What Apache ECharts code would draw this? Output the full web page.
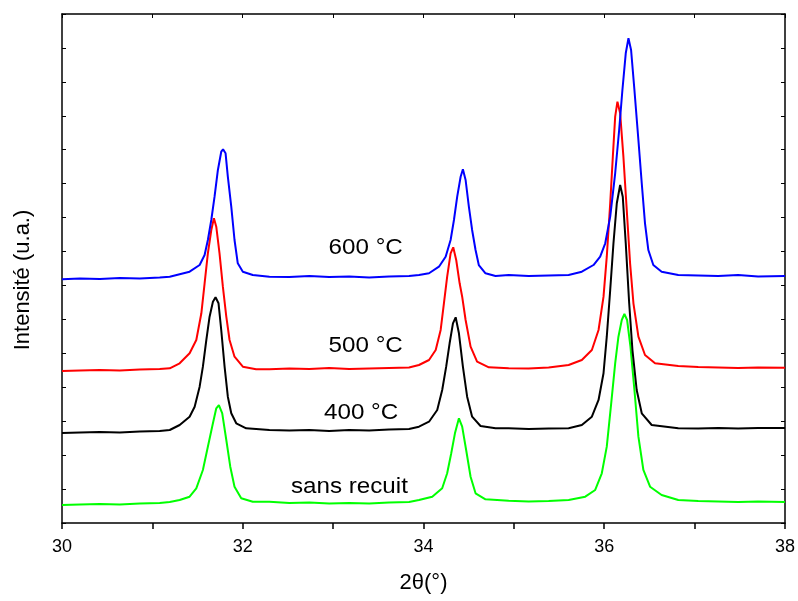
<!DOCTYPE html>
<html>
<head>
<meta charset="utf-8">
<script src="https://cdn.jsdelivr.net/npm/echarts@6/dist/echarts.min.js"></script>
<style>html,body{margin:0;padding:0;background:#fff;}#c{width:798px;height:601px;}</style>
</head>
<body>
<div id="c"></div>
<script>
// 2theta (deg), intensity (a.u., offset curves)
const green0 = [[30.000,0.530],[30.199,0.545],[30.419,0.560],[30.640,0.545],[30.861,0.575],[31.081,0.589],[31.192,0.619],[31.302,0.678],[31.412,0.775],[31.486,1.023],[31.559,1.562],[31.614,2.249],[31.670,2.938],[31.707,3.380],[31.736,3.477],[31.773,3.233],[31.818,2.446],[31.862,1.659],[31.909,1.070],[31.983,0.728],[32.111,0.628],[32.295,0.628],[32.516,0.589],[32.737,0.604],[32.957,0.575],[33.178,0.589],[33.399,0.575],[33.619,0.604],[33.840,0.619],[33.950,0.678],[34.097,0.775],[34.207,1.023],[34.262,1.465],[34.307,2.054],[34.348,2.643],[34.392,3.085],[34.428,2.838],[34.472,2.151],[34.521,1.364],[34.576,0.875],[34.686,0.698],[34.943,0.657],[35.164,0.634],[35.385,0.648],[35.606,0.678],[35.790,0.775],[35.900,0.973],[35.973,1.465],[36.028,2.249],[36.077,3.528],[36.121,4.706],[36.157,5.490],[36.194,5.982],[36.223,6.159],[36.253,5.982],[36.290,5.196],[36.334,3.920],[36.378,2.543],[36.433,1.562],[36.507,1.070],[36.635,0.825],[36.819,0.678],[37.040,0.648],[37.261,0.634],[37.481,0.619],[37.702,0.634],[38.000,0.619]];
const black400 = [[30.000,2.652],[30.199,2.667],[30.419,2.682],[30.640,2.667],[30.861,2.696],[31.081,2.711],[31.192,2.741],[31.302,2.888],[31.412,3.133],[31.468,3.427],[31.523,4.017],[31.559,4.606],[31.597,5.393],[31.633,6.080],[31.670,6.522],[31.699,6.651],[31.732,6.475],[31.762,5.688],[31.799,4.606],[31.835,3.722],[31.873,3.233],[31.928,2.938],[32.038,2.791],[32.295,2.741],[32.516,2.726],[32.737,2.741],[32.957,2.711],[33.178,2.741],[33.399,2.726],[33.619,2.755],[33.840,2.770],[33.950,2.838],[34.061,2.985],[34.152,3.330],[34.207,3.920],[34.251,4.606],[34.289,5.296],[34.326,5.885],[34.356,6.062],[34.392,5.590],[34.436,4.606],[34.483,3.722],[34.538,3.133],[34.631,2.859],[34.797,2.791],[34.943,2.791],[35.164,2.770],[35.385,2.785],[35.606,2.791],[35.752,2.888],[35.863,3.133],[35.937,3.625],[35.992,4.412],[36.028,5.490],[36.066,6.867],[36.102,8.243],[36.139,9.422],[36.176,9.961],[36.205,9.616],[36.238,8.243],[36.276,6.475],[36.312,5.098],[36.359,3.920],[36.415,3.233],[36.525,2.888],[36.819,2.791],[37.040,2.785],[37.261,2.800],[37.481,2.785],[37.702,2.800],[38.000,2.800]];
const red500 = [[30.000,4.479],[30.199,4.494],[30.419,4.509],[30.640,4.494],[30.861,4.524],[31.081,4.538],[31.192,4.559],[31.302,4.706],[31.412,5.001],[31.486,5.393],[31.542,6.180],[31.578,7.064],[31.614,7.948],[31.652,8.635],[31.681,8.980],[31.707,8.732],[31.743,7.948],[31.780,6.964],[31.818,6.080],[31.854,5.393],[31.909,4.901],[32.001,4.606],[32.148,4.530],[32.295,4.530],[32.516,4.553],[32.737,4.538],[32.957,4.568],[33.178,4.538],[33.399,4.553],[33.619,4.568],[33.840,4.583],[33.950,4.656],[34.061,4.804],[34.135,5.098],[34.190,5.688],[34.226,6.475],[34.262,7.259],[34.300,7.948],[34.329,8.125],[34.362,7.751],[34.400,7.064],[34.428,6.669],[34.466,5.982],[34.521,5.196],[34.593,4.754],[34.723,4.589],[34.943,4.559],[35.164,4.553],[35.385,4.583],[35.606,4.656],[35.752,4.804],[35.863,5.098],[35.937,5.688],[35.992,6.669],[36.028,7.848],[36.066,9.422],[36.095,10.795],[36.121,11.974],[36.146,12.416],[36.176,12.074],[36.212,10.795],[36.249,9.224],[36.286,7.653],[36.323,6.475],[36.378,5.490],[36.451,4.951],[36.562,4.706],[36.819,4.627],[37.040,4.597],[37.261,4.583],[37.481,4.568],[37.702,4.583],[38.000,4.577]];
const blue600 = [[30.000,7.182],[30.199,7.205],[30.419,7.191],[30.640,7.220],[30.861,7.205],[31.081,7.235],[31.192,7.259],[31.412,7.406],[31.523,7.603],[31.578,7.898],[31.614,8.340],[31.652,8.929],[31.688,9.616],[31.725,10.403],[31.762,10.942],[31.782,11.013],[31.810,10.895],[31.835,10.205],[31.873,9.321],[31.909,8.340],[31.945,7.653],[32.001,7.406],[32.111,7.309],[32.295,7.259],[32.516,7.250],[32.737,7.279],[32.957,7.250],[33.178,7.264],[33.399,7.235],[33.619,7.264],[33.840,7.279],[33.950,7.309],[34.061,7.359],[34.171,7.553],[34.245,7.848],[34.300,8.340],[34.337,8.929],[34.373,9.616],[34.411,10.205],[34.436,10.423],[34.466,10.108],[34.502,9.321],[34.538,8.635],[34.576,8.045],[34.612,7.603],[34.686,7.359],[34.797,7.279],[34.943,7.309],[35.164,7.279],[35.385,7.294],[35.606,7.309],[35.752,7.406],[35.881,7.603],[35.955,7.848],[36.011,8.243],[36.066,9.027],[36.121,10.306],[36.165,11.582],[36.201,12.761],[36.238,13.842],[36.268,14.284],[36.297,13.939],[36.334,12.761],[36.378,11.287],[36.415,10.011],[36.451,8.832],[36.488,8.045],[36.543,7.603],[36.635,7.406],[36.819,7.309],[37.040,7.294],[37.261,7.279],[37.481,7.309],[37.702,7.264],[38.000,7.279]];

const xLabelTicks = [30, 32, 34, 36, 38];
const curveLabels = ['600 °C', '500 °C', '400 °C', 'sans recuit'];
const labelX = [33.36, 33.36, 33.31, 33.18];
const labelY = [8.11, 5.22, 3.24, 1.06];

const chart = echarts.init(document.getElementById('c'), null, {renderer: 'canvas'});
const FONT = 'Liberation Sans, Arial, sans-serif';
const axisLine = {show: true, onZero: false, lineStyle: {color: '#000', width: 1.5}};

const option = {
  animation: false,
  backgroundColor: '#fff',
  grid: {left: 62, right: 11, top: 14, bottom: 78, containLabel: false},
  xAxis: [
    {
      type: 'value', position: 'bottom', min: 30, max: 38, interval: 1,
      axisLine: axisLine,
      axisTick: {show: true, inside: false, length: 6, lineStyle: {color: '#000', width: 1.5}},
      axisLabel: {show: true, margin: 15, color: '#000', fontSize: 18, fontFamily: FONT,
        formatter: v => xLabelTicks.includes(v) ? String(v) : ''},
      splitLine: {show: false},
      name: '2θ(°)', nameLocation: 'middle', nameGap: 49,
      nameTextStyle: {color: '#000', fontSize: 22, fontFamily: FONT}
    },
    {
      type: 'value', position: 'top', min: 30, max: 38, interval: 1,
      axisLine: axisLine,
      axisTick: {show: true, inside: true, length: 4, lineStyle: {color: '#000', width: 1}},
      axisLabel: {show: false}, splitLine: {show: false}
    }
  ],
  yAxis: [
    {
      type: 'value', position: 'left', min: 0, max: 15, interval: 1,
      axisLine: axisLine,
      axisTick: {show: true, inside: true, length: 4, lineStyle: {color: '#000', width: 1}},
      axisLabel: {show: false}, splitLine: {show: false}
    },
    {
      type: 'value', position: 'right', min: 0, max: 15, interval: 1,
      axisLine: axisLine,
      axisTick: {show: true, inside: true, length: 4, lineStyle: {color: '#000', width: 1}},
      axisLabel: {show: false}, splitLine: {show: false}
    }
  ],
  series: [
    {name: 'sans recuit', type: 'line', data: green0, showSymbol: false, lineStyle: {color: '#00ff00', width: 2}, itemStyle: {color: '#00ff00'}},
    {name: '400 °C', type: 'line', data: black400, showSymbol: false, lineStyle: {color: '#000000', width: 2}, itemStyle: {color: '#000'}},
    {name: '500 °C', type: 'line', data: red500, showSymbol: false, lineStyle: {color: '#ff0000', width: 2}, itemStyle: {color: '#ff0000'}},
    {name: '600 °C', type: 'line', data: blue600, showSymbol: false, lineStyle: {color: '#0000ff', width: 2}, itemStyle: {color: '#0000ff'}}
  ]
};
chart.setOption(option);

// curve labels placed through the chart's own scales
const g = curveLabels.map((t, i) => {
  const p = chart.convertToPixel({xAxisIndex: 0, yAxisIndex: 0}, [labelX[i], labelY[i]]);
  return {
    type: 'text', x: p[0], y: p[1], scaleX: 1.1,
    style: {text: t, fill: '#000', font: '22px ' + FONT, textAlign: 'center', textVerticalAlign: 'middle'}
  };
});
// y axis title
g.push({
  type: 'text', x: 23, y: 280, rotation: Math.PI / 2,
  style: {text: 'Intensité (u.a.)', fill: '#000', font: '22px ' + FONT, textAlign: 'center', textVerticalAlign: 'middle'}
});
chart.setOption({graphic: g});
</script>
</body>
</html>
